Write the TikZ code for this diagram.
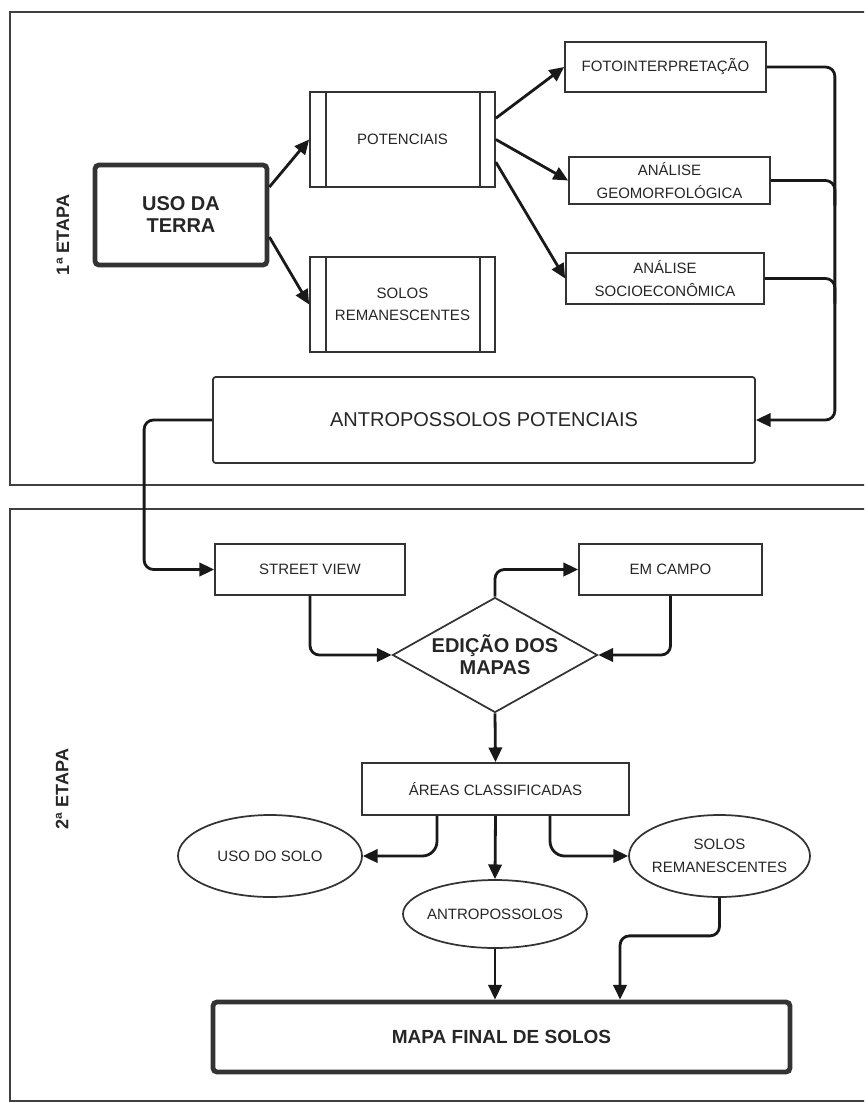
\documentclass[tikz,border=0pt]{standalone}
\usepackage{fontspec}
\setmainfont{Liberation Sans}
\usetikzlibrary{arrows.meta,shapes.geometric}

\tikzset{
  box/.style={draw=black!80, line width=1.3pt, align=center, inner sep=0pt,
    text=black!85, font=\fontsize{11.25}{17}\selectfont},
  bigbox/.style={box, line width=3.6pt, rounded corners=3pt,
    font=\bfseries\fontsize{15}{16.5}\selectfont},
  oval/.style={box, ellipse, inner xsep=-4pt},
  decision/.style={box, diamond, shape aspect=1.78,
    font=\bfseries\fontsize{15}{16.5}\selectfont},
  arr/.style={-{Triangle[length=11pt,width=10pt]}, line width=2.1pt, black!90},
  link/.style={line width=2.1pt, black!90},
  etapa/.style={rotate=90, text=black!85, font=\bfseries\fontsize{13.5}{14}\selectfont},
  frame/.style={draw=black!75, line width=2.2pt}
}

\begin{document}
\begin{tikzpicture}[x=0.75pt, y=-0.75pt]
  \useasboundingbox (0,0) rectangle (864,1102);
  \clip (0,0) rectangle (864,1102);

  % the two stages
  \draw[frame] (10,12) rectangle (880,485);
  \draw[frame] (10,509) rectangle (880,1101);
  \node[etapa] (etapa1) at (63,235) {1ª ETAPA};
  \node[etapa] (etapa2) at (62,789) {2ª ETAPA};

  % 1a etapa
  \node[bigbox, minimum width=129pt, minimum height=75pt] (usoterra) at (181,215) {USO DA\\TERRA};
  \node[box, minimum width=138.75pt, minimum height=71.25pt] (potenciais) at (402.5,139.5) {POTENCIAIS};
  \node[box, minimum width=138.75pt, minimum height=71.25pt] (solosrem) at (402.5,304.5) {SOLOS\\REMANESCENTES};
  \draw[box] ([xshift=12.75pt]potenciais.north west) -- ([xshift=12.75pt]potenciais.south west);
  \draw[box] ([xshift=-12pt]potenciais.north east) -- ([xshift=-12pt]potenciais.south east);
  \draw[box] ([xshift=12.75pt]solosrem.north west) -- ([xshift=12.75pt]solosrem.south west);
  \draw[box] ([xshift=-12pt]solosrem.north east) -- ([xshift=-12pt]solosrem.south east);

  \node[box, minimum width=150.75pt, minimum height=37.5pt] (foto) at (665.5,67) {FOTOINTERPRETAÇÃO};
  \node[box, minimum width=150.75pt, minimum height=35.25pt] (geomorf) at (669.5,180.5) {ANÁLISE\\GEOMORFOLÓGICA};
  \node[box, minimum width=148.5pt, minimum height=38.25pt] (socio) at (665,278.5) {ANÁLISE\\SOCIOECONÔMICA};
  \node[box, rounded corners=2pt, minimum width=406.5pt, minimum height=64.5pt,
    font=\fontsize{15}{17}\selectfont] (antropot) at (484,420) {ANTROPOSSOLOS POTENCIAIS};

  \draw[arr] ([yshift=21pt]usoterra.east) -- (potenciais.west);
  \draw[arr] ([yshift=-16.5pt]usoterra.east) -- (solosrem.west);
  \draw[arr] ([yshift=16pt]potenciais.east) -- (foto.west);
  \draw[arr] (potenciais.east) -- (geomorf.west);
  \draw[arr] ([yshift=-17pt]potenciais.east) -- (socio.west);

  \draw[arr, rounded corners=7pt] (foto.east) -- ++(68,0) |- (antropot.east);
  \draw[link, rounded corners=7pt] (geomorf.east) -- ++(64,0) -- ++(0,25);
  \draw[link, rounded corners=7pt] (socio.east) -- ++(70,0) -- ++(0,25);

  % 2a etapa
  \node[box, minimum width=142.5pt, minimum height=38.25pt] (street) at (310,569.5) {STREET VIEW};
  \node[box, minimum width=137.25pt, minimum height=38.25pt] (emcampo) at (670.5,569.5) {EM CAMPO};
  \node[decision, minimum width=153.75pt, minimum height=86.25pt] (edicao) at (495,655) {EDIÇÃO DOS\\MAPAS};
  \node[box, minimum width=200.25pt, minimum height=39pt] (areas) at (495.5,789) {ÁREAS CLASSIFICADAS};
  \node[oval, minimum width=138pt, minimum height=61.5pt] (usosolo) at (270,856) {USO DO SOLO};
  \node[oval, minimum width=135.75pt, minimum height=61.5pt] (solosrem2) at (719.5,856) {SOLOS\\REMANESCENTES};
  \node[oval, minimum width=138pt, minimum height=51pt] (antrossolos) at (495,914) {ANTROPOSSOLOS};
  \node[bigbox, minimum width=432.75pt, minimum height=52.5pt,
    font=\bfseries\fontsize{14.25}{16}\selectfont] (mapa) at (501.5,1037) {MAPA FINAL DE SOLOS};

  \draw[arr, rounded corners=7pt] (antropot.west) -- ++(-68,0) |- (street.west);
  \draw[arr, rounded corners=7pt] (street.south) |- (edicao.west);
  \draw[arr, rounded corners=7pt] (edicao.north) |- (emcampo.west);
  \draw[arr, rounded corners=7pt] (emcampo.south) |- (edicao.east);
  \draw[arr] (edicao.south) -- (areas.north);

  \draw[arr, rounded corners=11pt] ([xshift=-43.9pt]areas.south) |- (usosolo.east);
  \draw[arr] (areas.south) -- (antrossolos.north);
  \draw[arr, rounded corners=11pt] ([xshift=40.9pt]areas.south) |- (solosrem2.west);
  \draw[arr] (antrossolos.south) -- (antrossolos.south |- mapa.north);
  \draw[arr, rounded corners=7pt] (solosrem2.south) -- ++(0,38) -| ([xshift=88.9pt]mapa.north);
\end{tikzpicture}
\end{document}
